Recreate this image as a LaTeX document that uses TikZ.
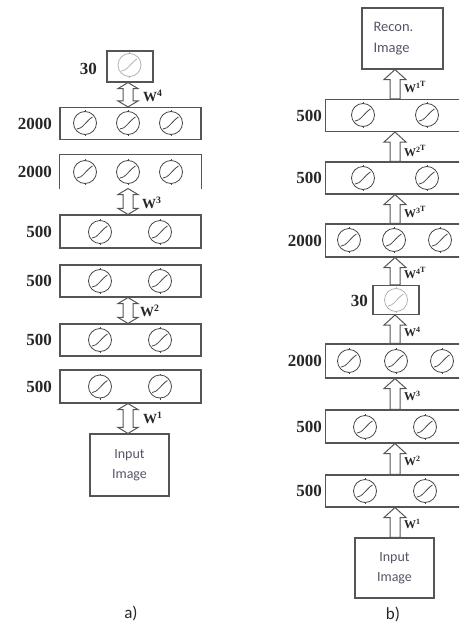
\documentclass[tikz,border=0pt]{standalone}
\usepackage{fontspec}
\setmainfont{Liberation Serif}
\newfontfamily\calfont{Carlito}
\usetikzlibrary{calc}
\definecolor{imgtxt}{RGB}{85,85,105}
\definecolor{lincol}{RGB}{85,85,85}
\tikzset{
  boxline/.style={draw=lincol, line width=1.1pt},
  layera/.style={boxline, minimum width=141pt, minimum height=32pt, inner sep=0pt},
  layerb/.style={boxline, minimum width=155pt, minimum height=32pt, inner sep=0pt},
  numlab/.style={font=\fontsize{17}{20}\selectfont\bfseries, inner sep=0pt, anchor=east, text=black!85},
  wlab/.style={font=\fontsize{14}{16}\selectfont\bfseries, inner sep=0pt, anchor=west, text=black!85},
  wlabb/.style={font=\fontsize{12}{14}\selectfont\bfseries, inner sep=0pt, anchor=west, text=black!85},
  imgtext/.style={font=\calfont\fontsize{14}{20}\selectfont, text=imgtxt, align=center},
  captext/.style={font=\calfont\fontsize{17}{20}\selectfont, text=black!85, inner sep=0pt},
  blockarr/.style={draw=lincol, line width=1pt, fill=white},
  ncol/.style={draw=black!72},
  neuron/.pic={
    \draw[ncol, line width=0.8pt] (0,0) circle (11.5);
    \draw[ncol, line width=0.8pt] (0,-11.5) -- (0,-13) (0,11.5) -- (0,13);
    \draw[ncol, line width=0.8pt] (-8,6) .. controls (-3,6.5) and (2,-3) .. (7.5,-6);
  }
}
\newcommand\dblarrow[3]{%
  \draw[blockarr] let \p1=(#1.south), \p2=(#2.north), \p3=(#3) in
    (\x3,\y1) -- (\x3+10pt,\y1-6pt) -- (\x3+5pt,\y1-6pt) -- (\x3+5pt,\y2+6pt)
    -- (\x3+10pt,\y2+6pt) -- (\x3,\y2) -- (\x3-10pt,\y2+6pt) -- (\x3-5pt,\y2+6pt)
    -- (\x3-5pt,\y1-6pt) -- (\x3-10pt,\y1-6pt) -- cycle;}
\newcommand\upblock[3]{%
  \draw[blockarr] let \p1=(#1.north), \p2=(#2.south), \p3=(#3) in
    (\x3-5pt,\y1) -- (\x3-5pt,\y2-10pt) -- (\x3-11pt,\y2-10pt) -- (\x3,\y2)
    -- (\x3+11pt,\y2-10pt) -- (\x3+5pt,\y2-10pt) -- (\x3+5pt,\y1) -- cycle;}
\newcommand\wt[1]{W\textsuperscript{#1\raisebox{2pt}{T}}}
\begin{document}
\begin{tikzpicture}[x=1pt,y=-1pt]
\useasboundingbox (0,0) rectangle (459,626);
\clip (0,0) rectangle (459,626);
% ---------------- panel a ----------------
\coordinate (acol) at (128,0);
\node[layera, minimum width=46pt, minimum height=31pt] (a30) at (130,66.5) {};
\pic[ncol/.style={draw=black!30}] at (129.5,65) {neuron};
\node[numlab] (la30) at (97,69) {30};
\node[layera] (a1) at (130.5,123.5) {};
\node[layera, draw=none, minimum height=33pt] (a2) at (130.5,171.5) {};
\draw[boxline] (a2.south west) -- (a2.north west) -- (a2.north east) -- (a2.south east);
\node[layera, minimum height=33pt] (a3) at (130.5,231.5) {};
\node[layera] (a4) at (130.5,281) {};
\node[layera] (a5) at (130.5,340) {};
\node[layera, minimum height=33pt] (a6) at (130.5,386.5) {};
\node[boxline, imgtext, minimum width=79pt, minimum height=62pt] (ina) at (129.5,465) {Input\\Image};
\foreach \xx in {85,128,171} {
  \pic at (\xx,123) {neuron};
  \pic at (\xx,172) {neuron};
}
\foreach \yy in {232,281,340,386.5} {
  \pic at (100,\yy) {neuron};
  \pic at (160,\yy) {neuron};
}
\node[numlab] (la1) at (52,123.5) {2000};
\node[numlab] (la2) at (52,172) {2000};
\node[numlab] (la3) at (52,232) {500};
\node[numlab] (la4) at (52,281) {500};
\node[numlab] (la5) at (52,340) {500};
\node[numlab] (la6) at (52,386.5) {500};
\dblarrow{a30}{a1}{acol}
\dblarrow{a2}{a3}{acol}
\dblarrow{a4}{a5}{acol}
\dblarrow{a6}{ina}{acol}
\node[wlab] (w4a) at (143,96) {W\textsuperscript{4}};
\node[wlab] (w3a) at (142,203) {W\textsuperscript{3}};
\node[wlab] (w2a) at (140,311) {W\textsuperscript{2}};
\node[wlab] (w1a) at (143,418) {W\textsuperscript{1}};
\node[captext] (capa) at (131,613) {a)};
% ---------------- panel b ----------------
\coordinate (bcol) at (395,0);
\node[boxline, imgtext, font=\calfont\fontsize{14.5}{21}\selectfont, minimum width=81pt, minimum height=61pt, text width=58pt, align=left] (rec) at (402.5,38.5) {Recon.\\Image};
\node[layerb] (b1) at (403,115.5) {};
\node[layerb] (b2) at (403,178) {};
\node[layerb, minimum height=33pt] (b3) at (403,240.5) {};
\node[layerb, minimum width=46pt, minimum height=29pt] (b30) at (396,300) {};
\node[layerb, minimum height=34pt] (b4) at (403,361) {};
\node[layerb, minimum height=33pt] (b5) at (403,426.5) {};
\node[layerb] (b6) at (403,491) {};
\node[boxline, imgtext, minimum width=79pt, minimum height=60pt] (inb) at (394.5,568) {Input\\Image};
\pic at (363,115) {neuron};
\pic at (427,115) {neuron};
\pic at (363,178) {neuron};
\pic at (427,178) {neuron};
\foreach \xx in {349,394,440} { \pic at (\xx,240) {neuron}; }
\pic[ncol/.style={draw=black!30}] at (396,300) {neuron};
\foreach \xx in {349,396,442} { \pic at (\xx,361) {neuron}; }
\pic at (365,427) {neuron};
\pic at (425,427) {neuron};
\pic at (365,491) {neuron};
\pic at (425,491) {neuron};
\node[numlab] (lb1) at (322,115.5) {500};
\node[numlab] (lb2) at (322,178) {500};
\node[numlab] (lb3) at (322,240.5) {2000};
\node[numlab] (lb30) at (368,300.5) {30};
\node[numlab] (lb4) at (322,361) {2000};
\node[numlab] (lb5) at (322,426.5) {500};
\node[numlab] (lb6) at (322,491) {500};
\upblock{inb}{b6}{bcol}
\upblock{b6}{b5}{bcol}
\upblock{b5}{b4}{bcol}
\upblock{b4}{b30}{bcol}
\upblock{b30}{b3}{bcol}
\upblock{b3}{b2}{bcol}
\upblock{b2}{b1}{bcol}
\upblock{b1}{rec}{bcol}
\node[wlabb] (w1tb) at (404,87) {\wt{1}};
\node[wlabb] (w2tb) at (404,151) {\wt{2}};
\node[wlabb] (w3tb) at (404,212) {\wt{3}};
\node[wlabb] (w4tb) at (404,273) {\wt{4}};
\node[wlabb] (w4b) at (404,332) {W\textsuperscript{4}};
\node[wlabb] (w3b) at (404,396) {W\textsuperscript{3}};
\node[wlabb] (w2b) at (404,461) {W\textsuperscript{2}};
\node[wlabb] (w1b) at (404,524) {W\textsuperscript{1}};
\node[captext] (capb) at (393,614) {b)};
\end{tikzpicture}
\end{document}
